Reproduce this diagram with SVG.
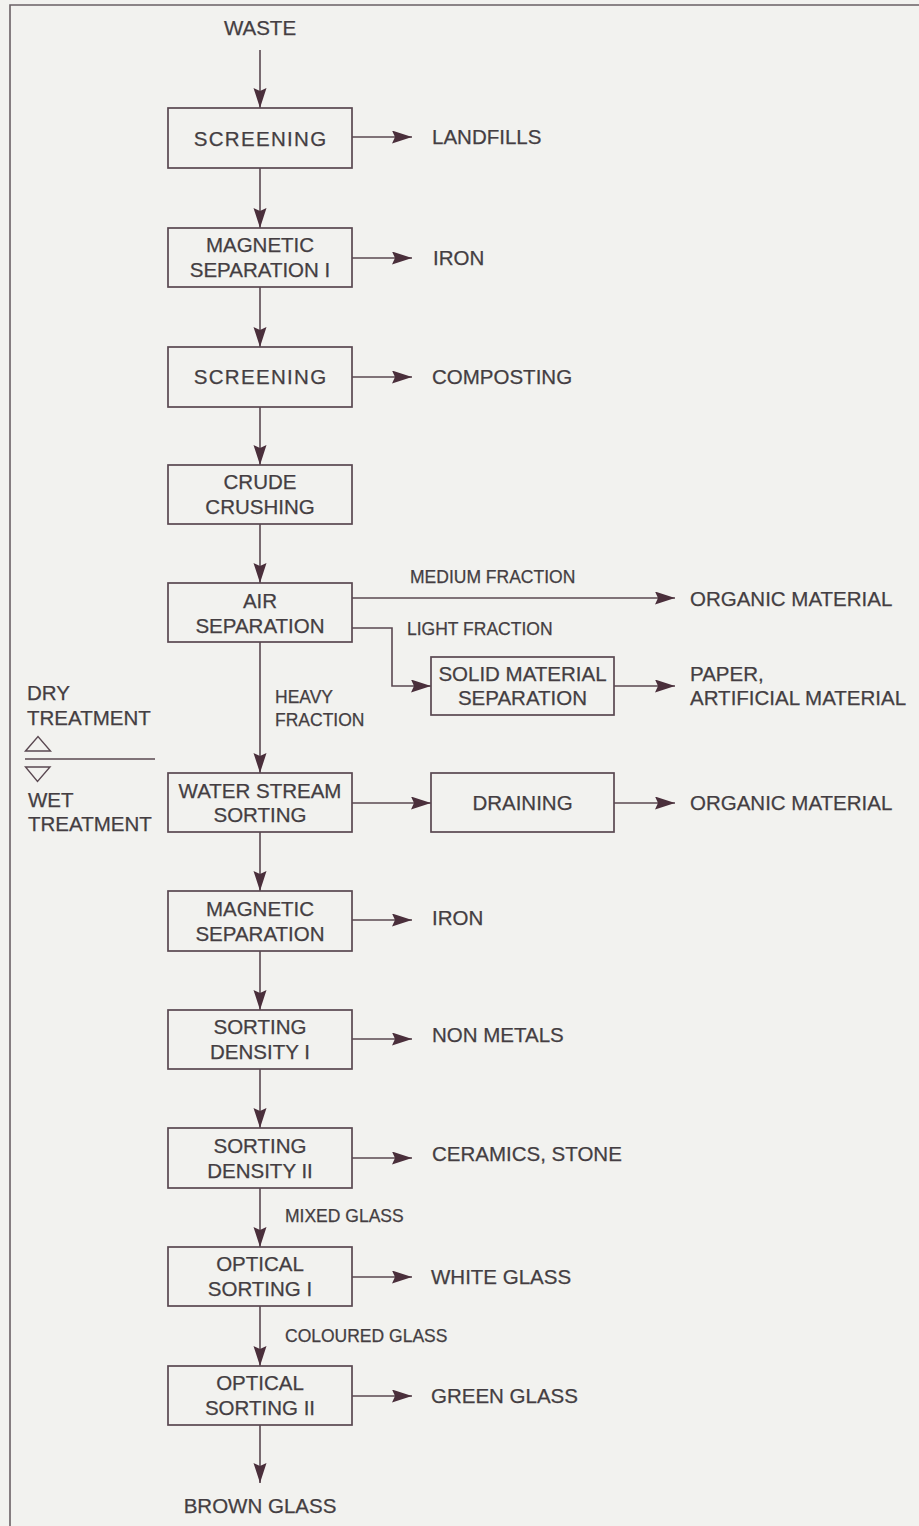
<svg xmlns="http://www.w3.org/2000/svg" width="919" height="1526" viewBox="0 0 919 1526">
<defs>
<style>
.bg{fill:#f2f2ef}
.frame{stroke:#6a6065;stroke-width:1.6;fill:none}
.box{fill:none;stroke:#5a4851;stroke-width:1.7}
.ln{fill:none;stroke:#5a4851;stroke-width:1.6;marker-end:url(#ah)}
.pl{fill:none;stroke:#5a4851;stroke-width:1.5}
text{font-family:"Liberation Sans",Arial,sans-serif;fill:#443e42;stroke:#443e42;stroke-width:0.25}
.t{font-size:20.5px}
.c{text-anchor:middle}
.s{font-size:17.5px}
.w{letter-spacing:1.3px}
.tri{fill:none;stroke:#5a4851;stroke-width:1.4}
</style>
<marker id="ah" markerUnits="userSpaceOnUse" markerWidth="21" markerHeight="14" refX="20" refY="6.5" orient="auto">
<path d="M0,0 L20,6.5 L0,13 L3,6.5 z" fill="#4a2f3b"/>
</marker>
</defs>
<rect class="bg" x="0" y="0" width="919" height="1526"/>
<path class="frame" d="M10,1526 V5 H919"/>

<g id="connectors">
<line class="ln" x1="260" y1="50" x2="260" y2="108"/>
<line class="ln" x1="260" y1="168" x2="260" y2="228"/>
<line class="ln" x1="260" y1="287" x2="260" y2="347"/>
<line class="ln" x1="260" y1="407" x2="260" y2="465"/>
<line class="ln" x1="260" y1="524" x2="260" y2="583"/>
<line class="ln" x1="260" y1="642" x2="260" y2="773"/>
<line class="ln" x1="260" y1="832" x2="260" y2="891"/>
<line class="ln" x1="260" y1="951" x2="260" y2="1010"/>
<line class="ln" x1="260" y1="1069" x2="260" y2="1128"/>
<line class="ln" x1="260" y1="1188" x2="260" y2="1247"/>
<line class="ln" x1="260" y1="1306" x2="260" y2="1366"/>
<line class="ln" x1="260" y1="1425" x2="260" y2="1483"/>

<line class="ln" x1="352" y1="137" x2="412" y2="137"/>
<line class="ln" x1="352" y1="258" x2="412" y2="258"/>
<line class="ln" x1="352" y1="377" x2="412" y2="377"/>
<line class="ln" x1="352" y1="598" x2="675" y2="598"/>
<polyline class="ln" points="352,628 392,628 392,686 431,686"/>
<line class="ln" x1="614" y1="686" x2="675" y2="686"/>
<line class="ln" x1="352" y1="803" x2="431" y2="803"/>
<line class="ln" x1="614" y1="803" x2="675" y2="803"/>
<line class="ln" x1="352" y1="920" x2="412" y2="920"/>
<line class="ln" x1="352" y1="1039" x2="412" y2="1039"/>
<line class="ln" x1="352" y1="1158" x2="412" y2="1158"/>
<line class="ln" x1="352" y1="1277" x2="412" y2="1277"/>
<line class="ln" x1="352" y1="1396" x2="412" y2="1396"/>
</g>

<g id="waste"><text class="t c" x="260" y="35">WASTE</text></g>

<g id="screening1"><rect class="box" x="168" y="108" width="184" height="60"/><text class="t c w" x="260.6" y="145.5">SCREENING</text></g>
<g id="magsep1"><rect class="box" x="168" y="228" width="184" height="59"/><text class="t c" x="260" y="252">MAGNETIC</text><text class="t c" x="260" y="277">SEPARATION I</text></g>
<g id="screening2"><rect class="box" x="168" y="347" width="184" height="60"/><text class="t c w" x="260.6" y="384">SCREENING</text></g>
<g id="crude"><rect class="box" x="168" y="465" width="184" height="59"/><text class="t c" x="260" y="489">CRUDE</text><text class="t c" x="260" y="514">CRUSHING</text></g>
<g id="air"><rect class="box" x="168" y="583" width="184" height="59"/><text class="t c" x="260" y="607.5">AIR</text><text class="t c" x="260" y="632.5">SEPARATION</text></g>
<g id="solid"><rect class="box" x="431" y="657" width="183" height="58"/><text class="t c" x="522.5" y="680.5">SOLID MATERIAL</text><text class="t c" x="522.5" y="704.5">SEPARATION</text></g>
<g id="water"><rect class="box" x="168" y="773" width="184" height="59"/><text class="t c" x="260" y="797.5">WATER STREAM</text><text class="t c" x="260" y="822">SORTING</text></g>
<g id="draining"><rect class="box" x="431" y="773" width="183" height="59"/><text class="t c" x="522.5" y="810">DRAINING</text></g>
<g id="magsep2"><rect class="box" x="168" y="891" width="184" height="60"/><text class="t c" x="260" y="916">MAGNETIC</text><text class="t c" x="260" y="941">SEPARATION</text></g>
<g id="density1"><rect class="box" x="168" y="1010" width="184" height="59"/><text class="t c" x="260" y="1034">SORTING</text><text class="t c" x="260" y="1059">DENSITY I</text></g>
<g id="density2"><rect class="box" x="168" y="1128" width="184" height="60"/><text class="t c" x="260" y="1153">SORTING</text><text class="t c" x="260" y="1178">DENSITY II</text></g>
<g id="optical1"><rect class="box" x="168" y="1247" width="184" height="59"/><text class="t c" x="260" y="1271">OPTICAL</text><text class="t c" x="260" y="1296">SORTING I</text></g>
<g id="optical2"><rect class="box" x="168" y="1366" width="184" height="59"/><text class="t c" x="260" y="1390">OPTICAL</text><text class="t c" x="260" y="1415">SORTING II</text></g>

<g id="out-landfills"><text class="t" x="432" y="143.5">LANDFILLS</text></g>
<g id="out-iron1"><text class="t" x="433" y="265">IRON</text></g>
<g id="out-composting"><text class="t" x="432" y="384">COMPOSTING</text></g>
<g id="out-organic1"><text class="t" x="690" y="605.5">ORGANIC MATERIAL</text></g>
<g id="out-paper"><text class="t" x="690" y="680.5">PAPER,</text><text class="t" x="690" y="704.5">ARTIFICIAL MATERIAL</text></g>
<g id="out-organic2"><text class="t" x="690" y="810">ORGANIC MATERIAL</text></g>
<g id="out-iron2"><text class="t" x="432" y="925">IRON</text></g>
<g id="out-nonmetals"><text class="t" x="432" y="1042">NON METALS</text></g>
<g id="out-ceramics"><text class="t" x="432" y="1161">CERAMICS, STONE</text></g>
<g id="out-white"><text class="t" x="431" y="1284">WHITE GLASS</text></g>
<g id="out-green"><text class="t" x="431" y="1403">GREEN GLASS</text></g>
<g id="out-brown"><text class="t c" x="260" y="1513">BROWN GLASS</text></g>

<g id="labels">
<text class="s" x="410" y="583">MEDIUM FRACTION</text>
<text class="s" x="407" y="635">LIGHT FRACTION</text>
<text class="s" x="275" y="703">HEAVY</text>
<text class="s" x="275" y="725.5">FRACTION</text>
<text class="s" x="285" y="1222">MIXED GLASS</text>
<text class="s" x="285" y="1342">COLOURED GLASS</text>
</g>

<g id="treatment-legend">
<text class="t" x="27" y="700">DRY</text>
<text class="t" x="27" y="725">TREATMENT</text>
<polygon class="tri" points="25.5,751 38,736.5 50.5,751"/>
<line class="pl" x1="25" y1="759" x2="155" y2="759"/>
<polygon class="tri" points="25.5,767 50,767 37.5,781.5"/>
<text class="t" x="28" y="807">WET</text>
<text class="t" x="28" y="831">TREATMENT</text>
</g>
</svg>
